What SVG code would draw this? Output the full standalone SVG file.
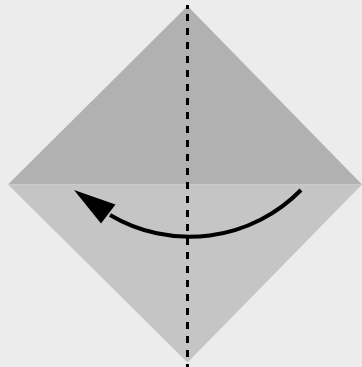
<svg xmlns="http://www.w3.org/2000/svg" width="362" height="367" viewBox="0 0 362 367">
<style>
.fold{stroke:#000;stroke-width:3;stroke-dasharray:7 7;fill:none}
.arrow{stroke:#000;stroke-width:4;fill:none;stroke-linecap:butt}
</style>
<rect x="0" y="0" width="362" height="367" fill="#ececec"/>
<g id="paper">
<polygon points="187.5,6 362,184.5 8,184.5" fill="#b1b1b1"/>
<polygon points="8,184.5 362,184.5 187.5,362.5" fill="#c5c5c5"/>
</g>
<g id="connectors">
<line class="fold" x1="187.5" y1="14" x2="187.5" y2="367"/>
<line x1="187.5" y1="5" x2="187.5" y2="9" stroke="#000" stroke-width="3"/>
<path class="arrow" d="M301,190 A156,156 0 0 1 110,215"/>
<polygon points="74,190 115.5,204.5 101,223.5" fill="#000"/>
</g>
</svg>
